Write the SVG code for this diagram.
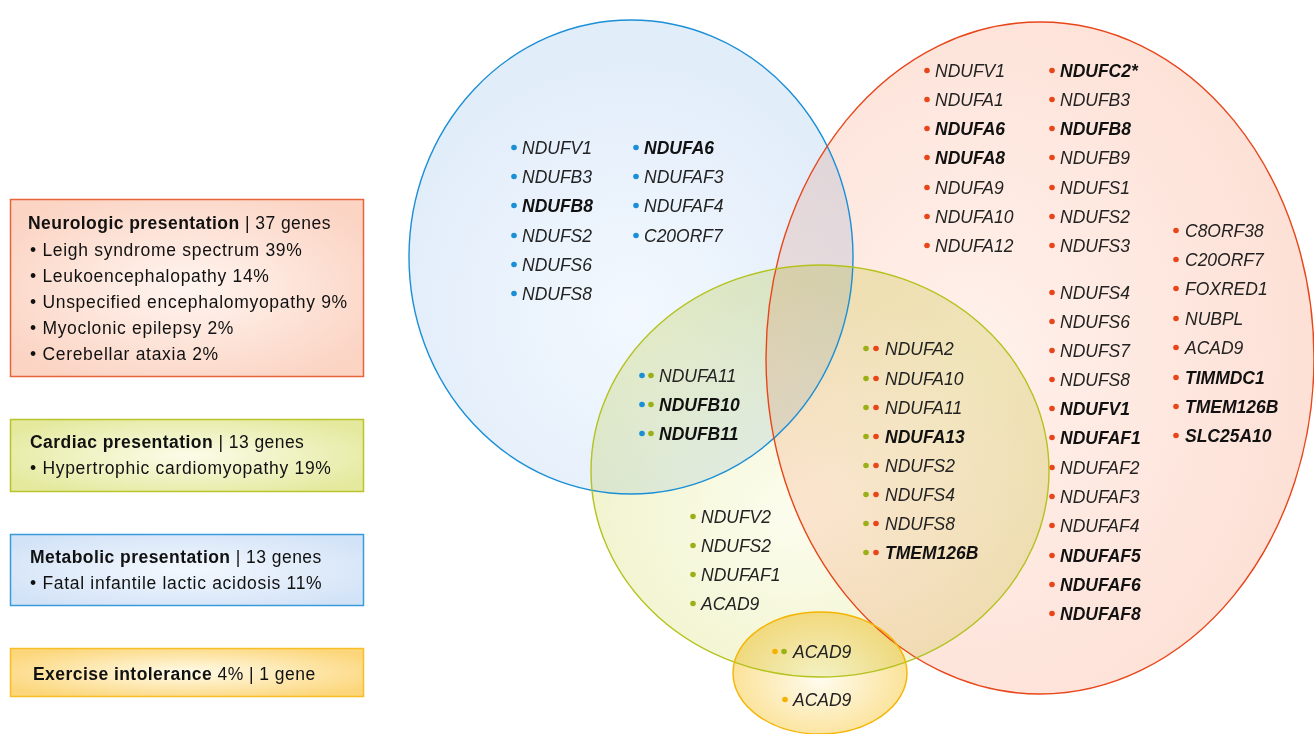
<svg xmlns="http://www.w3.org/2000/svg" width="1314" height="734" viewBox="0 0 1314 734">
<defs>
<radialGradient id="gBlue" cx="0.5" cy="0.62" r="0.55"><stop offset="0" stop-color="#f2f8fe"/><stop offset="1" stop-color="#e2edfa"/></radialGradient>
<radialGradient id="gRed" cx="0.38" cy="0.5" r="0.6"><stop offset="0" stop-color="#fff1eb"/><stop offset="1" stop-color="#fde1d7"/></radialGradient>
<radialGradient id="gGreen" cx="0.45" cy="0.6" r="0.55"><stop offset="0" stop-color="#fcfdee"/><stop offset="1" stop-color="#eff2c8"/></radialGradient>
<radialGradient id="gOrange" cx="0.5" cy="0.55" r="0.55"><stop offset="0" stop-color="#fffcef"/><stop offset="1" stop-color="#fbe091"/></radialGradient>
<radialGradient id="lRed" cx="0.5" cy="0.5" r="0.6"><stop offset="0" stop-color="#fff5f0"/><stop offset="1" stop-color="#fbd4c4"/></radialGradient>
<radialGradient id="lGreen" cx="0.5" cy="0.5" r="0.6"><stop offset="0" stop-color="#fbfce8"/><stop offset="1" stop-color="#e4e99e"/></radialGradient>
<radialGradient id="lBlue" cx="0.5" cy="0.5" r="0.6"><stop offset="0" stop-color="#f3f8fe"/><stop offset="1" stop-color="#d3e3f7"/></radialGradient>
<radialGradient id="lOrange" cx="0.5" cy="0.5" r="0.6"><stop offset="0" stop-color="#fffbea"/><stop offset="1" stop-color="#fcd67a"/></radialGradient>
</defs>
<style>
.fill{mix-blend-mode:multiply}
.g{font-family:"Liberation Sans",Arial,sans-serif;font-size:17.5px;font-style:italic;fill:#222}
.b{font-weight:bold;fill:#111}
.lg{font-family:"Liberation Sans",Arial,sans-serif;font-size:17.5px;fill:#111;letter-spacing:0.45px}
.li{letter-spacing:0.7px}
.lgb{font-weight:bold;letter-spacing:0.45px}
.db{fill:#1a8fd6}.dg{fill:#9bb016}.dr{fill:#e8461a}.do{fill:#f5b000}
</style>
<rect width="1314" height="734" fill="#fff"/>

<g id="fills">
<ellipse class="fill" cx="631" cy="257" rx="222" ry="237" fill="url(#gBlue)"/>
<ellipse class="fill" cx="1040" cy="358" rx="274" ry="336" fill="url(#gRed)"/>
<ellipse class="fill" cx="820" cy="471" rx="229" ry="206" fill="url(#gGreen)"/>
<ellipse class="fill" cx="820" cy="673" rx="87" ry="61" fill="url(#gOrange)"/>
</g>

<g id="metabolic-set">
<ellipse cx="631" cy="257" rx="222" ry="237" fill="none" stroke="#1a8fd6" stroke-width="1.4"/>
<circle class="db" cx="514" cy="147.5" r="2.8"/><text class="g" x="522" y="153.5">NDUFV1</text>
<circle class="db" cx="514" cy="176.5" r="2.8"/><text class="g" x="522" y="182.5">NDUFB3</text>
<circle class="db" cx="514" cy="205.5" r="2.8"/><text class="g b" x="522" y="211.5">NDUFB8</text>
<circle class="db" cx="514" cy="235.5" r="2.8"/><text class="g" x="522" y="241.5">NDUFS2</text>
<circle class="db" cx="514" cy="264.5" r="2.8"/><text class="g" x="522" y="270.5">NDUFS6</text>
<circle class="db" cx="514" cy="293.5" r="2.8"/><text class="g" x="522" y="299.5">NDUFS8</text>
<circle class="db" cx="636" cy="147.5" r="2.8"/><text class="g b" x="644" y="153.5">NDUFA6</text>
<circle class="db" cx="636" cy="176.5" r="2.8"/><text class="g" x="644" y="182.5">NDUFAF3</text>
<circle class="db" cx="636" cy="205.5" r="2.8"/><text class="g" x="644" y="211.5">NDUFAF4</text>
<circle class="db" cx="636" cy="235.5" r="2.8"/><text class="g" x="644" y="241.5">C20ORF7</text>
</g>

<g id="neurologic-set">
<ellipse cx="1040" cy="358" rx="274" ry="336" fill="none" stroke="#e8461a" stroke-width="1.4"/>
<circle class="dr" cx="927" cy="70.5" r="2.8"/><text class="g" x="935" y="76.5">NDUFV1</text>
<circle class="dr" cx="927" cy="99.5" r="2.8"/><text class="g" x="935" y="105.5">NDUFA1</text>
<circle class="dr" cx="927" cy="128.5" r="2.8"/><text class="g b" x="935" y="134.5">NDUFA6</text>
<circle class="dr" cx="927" cy="157.5" r="2.8"/><text class="g b" x="935" y="163.5">NDUFA8</text>
<circle class="dr" cx="927" cy="187.5" r="2.8"/><text class="g" x="935" y="193.5">NDUFA9</text>
<circle class="dr" cx="927" cy="216.5" r="2.8"/><text class="g" x="935" y="222.5">NDUFA10</text>
<circle class="dr" cx="927" cy="245.5" r="2.8"/><text class="g" x="935" y="251.5">NDUFA12</text>
<circle class="dr" cx="1052" cy="70.5" r="2.8"/><text class="g b" x="1060" y="76.5">NDUFC2*</text>
<circle class="dr" cx="1052" cy="99.5" r="2.8"/><text class="g" x="1060" y="105.5">NDUFB3</text>
<circle class="dr" cx="1052" cy="128.5" r="2.8"/><text class="g b" x="1060" y="134.5">NDUFB8</text>
<circle class="dr" cx="1052" cy="157.5" r="2.8"/><text class="g" x="1060" y="163.5">NDUFB9</text>
<circle class="dr" cx="1052" cy="187.5" r="2.8"/><text class="g" x="1060" y="193.5">NDUFS1</text>
<circle class="dr" cx="1052" cy="216.5" r="2.8"/><text class="g" x="1060" y="222.5">NDUFS2</text>
<circle class="dr" cx="1052" cy="245.5" r="2.8"/><text class="g" x="1060" y="251.5">NDUFS3</text>
<circle class="dr" cx="1052" cy="292.5" r="2.8"/><text class="g" x="1060" y="298.5">NDUFS4</text>
<circle class="dr" cx="1052" cy="321.5" r="2.8"/><text class="g" x="1060" y="327.5">NDUFS6</text>
<circle class="dr" cx="1052" cy="350.5" r="2.8"/><text class="g" x="1060" y="356.5">NDUFS7</text>
<circle class="dr" cx="1052" cy="379.5" r="2.8"/><text class="g" x="1060" y="385.5">NDUFS8</text>
<circle class="dr" cx="1052" cy="408.5" r="2.8"/><text class="g b" x="1060" y="414.5">NDUFV1</text>
<circle class="dr" cx="1052" cy="437.5" r="2.8"/><text class="g b" x="1060" y="443.5">NDUFAF1</text>
<circle class="dr" cx="1052" cy="467.5" r="2.8"/><text class="g" x="1060" y="473.5">NDUFAF2</text>
<circle class="dr" cx="1052" cy="496.5" r="2.8"/><text class="g" x="1060" y="502.5">NDUFAF3</text>
<circle class="dr" cx="1052" cy="525.5" r="2.8"/><text class="g" x="1060" y="531.5">NDUFAF4</text>
<circle class="dr" cx="1052" cy="555.5" r="2.8"/><text class="g b" x="1060" y="561.5">NDUFAF5</text>
<circle class="dr" cx="1052" cy="584.5" r="2.8"/><text class="g b" x="1060" y="590.5">NDUFAF6</text>
<circle class="dr" cx="1052" cy="613.5" r="2.8"/><text class="g b" x="1060" y="619.5">NDUFAF8</text>
<circle class="dr" cx="1176" cy="230.5" r="2.8"/><text class="g" x="1185" y="236.5">C8ORF38</text>
<circle class="dr" cx="1176" cy="259.5" r="2.8"/><text class="g" x="1185" y="265.5">C20ORF7</text>
<circle class="dr" cx="1176" cy="288.5" r="2.8"/><text class="g" x="1185" y="294.5">FOXRED1</text>
<circle class="dr" cx="1176" cy="318.5" r="2.8"/><text class="g" x="1185" y="324.5">NUBPL</text>
<circle class="dr" cx="1176" cy="347.5" r="2.8"/><text class="g" x="1185" y="353.5">ACAD9</text>
<circle class="dr" cx="1176" cy="377.5" r="2.8"/><text class="g b" x="1185" y="383.5">TIMMDC1</text>
<circle class="dr" cx="1176" cy="406.5" r="2.8"/><text class="g b" x="1185" y="412.5">TMEM126B</text>
<circle class="dr" cx="1176" cy="435.5" r="2.8"/><text class="g b" x="1185" y="441.5">SLC25A10</text>
</g>

<g id="cardiac-set">
<ellipse cx="820" cy="471" rx="229" ry="206" fill="none" stroke="#b3c21c" stroke-width="1.4"/>
<circle class="dg" cx="693" cy="516.5" r="2.8"/><text class="g" x="701" y="522.5">NDUFV2</text>
<circle class="dg" cx="693" cy="545.5" r="2.8"/><text class="g" x="701" y="551.5">NDUFS2</text>
<circle class="dg" cx="693" cy="574.5" r="2.8"/><text class="g" x="701" y="580.5">NDUFAF1</text>
<circle class="dg" cx="693" cy="603.5" r="2.8"/><text class="g" x="701" y="609.5">ACAD9</text>
</g>

<g id="metabolic-cardiac-overlap">
<circle class="db" cx="642" cy="375.5" r="2.8"/><circle class="dg" cx="651" cy="375.5" r="2.8"/><text class="g" x="659" y="381.5">NDUFA11</text>
<circle class="db" cx="642" cy="404.5" r="2.8"/><circle class="dg" cx="651" cy="404.5" r="2.8"/><text class="g b" x="659" y="410.5">NDUFB10</text>
<circle class="db" cx="642" cy="433.5" r="2.8"/><circle class="dg" cx="651" cy="433.5" r="2.8"/><text class="g b" x="659" y="439.5">NDUFB11</text>
</g>

<g id="cardiac-neurologic-overlap">
<circle class="dg" cx="866" cy="348.5" r="2.8"/><circle class="dr" cx="876" cy="348.5" r="2.8"/><text class="g" x="885" y="354.5">NDUFA2</text>
<circle class="dg" cx="866" cy="378.5" r="2.8"/><circle class="dr" cx="876" cy="378.5" r="2.8"/><text class="g" x="885" y="384.5">NDUFA10</text>
<circle class="dg" cx="866" cy="407.5" r="2.8"/><circle class="dr" cx="876" cy="407.5" r="2.8"/><text class="g" x="885" y="413.5">NDUFA11</text>
<circle class="dg" cx="866" cy="436.5" r="2.8"/><circle class="dr" cx="876" cy="436.5" r="2.8"/><text class="g b" x="885" y="442.5">NDUFA13</text>
<circle class="dg" cx="866" cy="465.5" r="2.8"/><circle class="dr" cx="876" cy="465.5" r="2.8"/><text class="g" x="885" y="471.5">NDUFS2</text>
<circle class="dg" cx="866" cy="494.5" r="2.8"/><circle class="dr" cx="876" cy="494.5" r="2.8"/><text class="g" x="885" y="500.5">NDUFS4</text>
<circle class="dg" cx="866" cy="523.5" r="2.8"/><circle class="dr" cx="876" cy="523.5" r="2.8"/><text class="g" x="885" y="529.5">NDUFS8</text>
<circle class="dg" cx="866" cy="552.5" r="2.8"/><circle class="dr" cx="876" cy="552.5" r="2.8"/><text class="g b" x="885" y="558.5">TMEM126B</text>
</g>

<g id="exercise-set">
<ellipse cx="820" cy="673" rx="87" ry="61" fill="none" stroke="#f5b400" stroke-width="1.4"/>
<circle class="do" cx="775" cy="651.5" r="2.8"/><circle class="dg" cx="784" cy="651.5" r="2.8"/><text class="g" x="793" y="657.5">ACAD9</text>
<circle class="do" cx="785" cy="699.5" r="2.8"/><text class="g" x="793" y="705.5">ACAD9</text>
</g>

<g id="legend-neurologic">
<rect x="10.5" y="199.5" width="353" height="177" fill="url(#lRed)" stroke="#e8643a" stroke-width="1.5"/>
<text class="lg" x="28" y="229"><tspan class="lgb">Neurologic presentation</tspan> | 37 genes</text>
<text class="lg li" x="30" y="256">• Leigh syndrome spectrum 39%</text>
<text class="lg li" x="30" y="282">• Leukoencephalopathy 14%</text>
<text class="lg li" x="30" y="308">• Unspecified encephalomyopathy 9%</text>
<text class="lg li" x="30" y="334">• Myoclonic epilepsy 2%</text>
<text class="lg li" x="30" y="360">• Cerebellar ataxia 2%</text>
</g>
<g id="legend-cardiac">
<rect x="10.5" y="419.5" width="353" height="72" fill="url(#lGreen)" stroke="#b8c42a" stroke-width="1.5"/>
<text class="lg" x="30" y="448"><tspan class="lgb">Cardiac presentation</tspan> | 13 genes</text>
<text class="lg li" x="30" y="474">• Hypertrophic cardiomyopathy 19%</text>
</g>
<g id="legend-metabolic">
<rect x="10.5" y="534.5" width="353" height="71" fill="url(#lBlue)" stroke="#3b9ad9" stroke-width="1.5"/>
<text class="lg" x="30" y="563"><tspan class="lgb">Metabolic presentation</tspan> | 13 genes</text>
<text class="lg li" x="30" y="589">• Fatal infantile lactic acidosis 11%</text>
</g>
<g id="legend-exercise">
<rect x="10.5" y="648.5" width="353" height="48" fill="url(#lOrange)" stroke="#f7be26" stroke-width="1.5"/>
<text class="lg" x="33" y="680"><tspan class="lgb">Exercise intolerance</tspan> 4% | 1 gene</text>
</g>
<g id="connectors"/>
</svg>
